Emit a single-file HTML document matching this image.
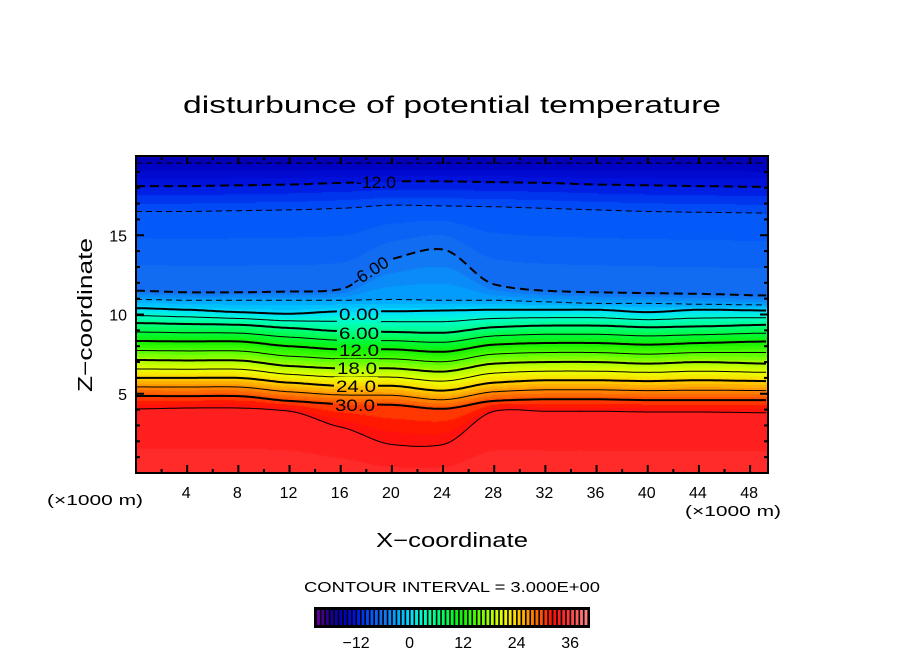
<!DOCTYPE html>
<html><head><meta charset="utf-8"><style>
html,body{margin:0;padding:0;background:#fff}
#wrap{position:relative;width:904px;height:654px;overflow:hidden}
canvas{position:absolute;left:0;top:0}
svg{position:absolute;left:0;top:0}
text{font-family:"Liberation Sans",sans-serif;fill:#000}
</style></head><body>
<div id="wrap">
<canvas id="cv" width="904" height="654"></canvas>
<svg id="sv" width="904" height="654"></svg>
</div>
<script>
// ---- data ----
const xs = [0,4,8,12,16,20,24,28,32,36,40,44,49.5];
const levels = [-18,-15,-12,-9,-6,-3,0,6,12,18,24,30,33,35];
const hM18 = [21,21,21,21,21,21,21,21,21,21,21,21,21];
const hM15 = [19.55,19.55,19.55,19.55,19.55,19.55,19.55,19.55,19.55,19.55,19.55,19.55,19.55];
const hM12 = [18.1,18.1,18.15,18.2,18.3,18.4,18.4,18.35,18.3,18.2,18.15,18.1,18.05];
const hM9 = [16.5,16.5,16.55,16.6,16.7,16.9,16.85,16.8,16.7,16.6,16.5,16.45,16.4];
const hM6 = [11.5,11.4,11.4,11.45,11.6,13.5,14.1,11.9,11.5,11.4,11.35,11.3,11.2];
const hM3 = [10.95,10.9,10.9,10.9,10.9,10.95,10.9,10.9,10.8,10.7,10.7,10.65,10.6];
const h0 = [10.4,10.3,10.15,10.05,10.2,10.2,10.25,10.3,10.3,10.3,10.15,10.3,10.25];
const h6 = [9.46,9.4,9.35,9.15,8.95,8.9,8.85,9.2,9.3,9.3,9.2,9.25,9.35];
const h12 = [8.33,8.3,8.3,8.0,7.8,7.8,7.65,8.1,8.2,8.2,8.1,8.2,8.3];
const h18 = [7.13,7.1,7.1,6.75,6.6,6.6,6.4,6.9,7.0,7.0,6.9,7.0,6.9];
const h24 = [6.0,6.0,6.0,5.7,5.5,5.5,5.2,5.7,5.85,5.85,5.8,5.85,5.8];
const h30 = [4.86,4.85,4.85,4.55,4.35,4.3,4.05,4.55,4.65,4.65,4.6,4.6,4.6];
const h33 = [4.04,4.1,4.1,3.9,2.9,1.8,1.8,3.9,3.9,3.9,3.85,3.85,3.8];
const h35 = [-1,-1,-1,-1,-1,-1,-1,-1,-1,-1,-1,-1,-1];
const heights = [hM18,hM15,hM12,hM9,hM6,hM3,h0,h6,h12,h18,h24,h30,h33,h35];
const cbTicks = [-12,0,12,24,36];
const cbMin = -21, cbMax = 40;

// ---- axes ----
const PL=136, PR=768, PT=156, PB=473, XMAX=49.4, ZMAX=20;
const sx = x => PL + x*(PR-PL)/XMAX;
const sz = z => PB - z*(PB-PT)/ZMAX;

const stops=[[-21,[112,0,160]],[-18,[30,0,140]],[-15,[0,0,190]],[-12,[0,20,225]],[-9,[0,85,250]],[-6,[20,112,240]],[-3,[0,165,255]],[0,[0,220,255]],[3,[0,255,200]],[6,[0,255,130]],[9,[0,250,60]],[12,[20,240,0]],[15,[80,255,0]],[18,[170,255,0]],[21,[235,255,0]],[24,[255,210,0]],[27,[255,140,0]],[30,[255,70,0]],[32,[255,10,0]],[33,[255,25,25]],[35,[255,48,48]],[38,[255,100,100]],[41,[255,150,150]]];
function cmap(v){
  if(v<=stops[0][0]) return stops[0][1];
  for(let i=1;i<stops.length;i++){ if(v<=stops[i][0]){const a=stops[i-1],b=stops[i],t=(v-a[0])/(b[0]-a[0]);return a[1].map((c,k)=>Math.round(c+(b[1][k]-c)*t));}}
  return stops[stops.length-1][1];
}
function hAt(arr,x){
  const n=xs.length;
  for(let i=1;i<n;i++){ if(x<=xs[i]){
    const t=(x-xs[i-1])/(xs[i]-xs[i-1]);
    const p0=arr[Math.max(i-2,0)],p1=arr[i-1],p2=arr[i],p3=arr[Math.min(i+1,n-1)];
    const m1=(p2-p0)/2*0.6,m2=(p3-p1)/2*0.6;
    const t2=t*t,t3=t2*t;
    return (2*t3-3*t2+1)*p1+(t3-2*t2+t)*m1+(-2*t3+3*t2)*p2+(t3-t2)*m2;
  }}
  return arr[n-1];
}
function valAt(hs,z){
  for(let i=1;i<levels.length;i++){
    if(z>=hs[i]){const t=(z-hs[i])/(hs[i-1]-hs[i]);return levels[i]+(levels[i-1]-levels[i])*t;}
  }
  return levels[levels.length-1];
}
// ---- fill ----
const ctx=document.getElementById('cv').getContext('2d');
const img=ctx.createImageData(PR-PL,PB-PT);
for(let px=0;px<PR-PL;px++){
  const x=px*XMAX/(PR-PL);
  const hs=heights.map(a=>hAt(a,x));
  for(let py=0;py<PB-PT;py++){
    const z=(PB-PT-py)*ZMAX/(PB-PT);
    const v=valAt(hs,z);
    const c=cmap(Math.floor(v)+0.5);
    const k=(py*(PR-PL)+px)*4;
    img.data[k]=c[0];img.data[k+1]=c[1];img.data[k+2]=c[2];img.data[k+3]=255;
  }
}
ctx.putImageData(img,PL,PT);

// ---- svg ----
const NS='http://www.w3.org/2000/svg';
const sv=document.getElementById('sv');
function mk(tag,attrs,parent){const e=document.createElementNS(NS,tag);for(const k in attrs)e.setAttribute(k,attrs[k]);(parent||sv).appendChild(e);return e;}
function txt(s,x,y,size,anchor,len,parent){const t=mk('text',{x:x,y:y,'font-size':size,'text-anchor':anchor||'middle'},parent);if(len){t.setAttribute('textLength',len);t.setAttribute('lengthAdjust','spacingAndGlyphs');}t.textContent=s;return t;}

const defs=mk('defs',{});
const mask=mk('mask',{id:'lm'},defs);
mk('rect',{x:0,y:0,width:904,height:654,fill:'#fff'},mask);
const labels=[['-12.0',376,188,0],['-6.00',370,277,-32],['0.00',359,320,0],['6.00',359,339,0],['12.0',359,356,0],['18.0',357,374,0],['24.0',356,392,0],['30.0',355,411,0]];
labels.forEach(l=>{mk('rect',{x:l[1]-22,y:l[2]-15,width:44,height:17,fill:'#000',transform:'rotate('+l[3]+' '+l[1]+' '+(l[2]-6)+')'},mask);});
const clip=mk('clipPath',{id:'pc'},defs);
mk('rect',{x:PL,y:PT,width:PR-PL,height:PB-PT},clip);

const lineG=mk('g',{mask:'url(#lm)','clip-path':'url(#pc)'});


function drawLevel(lv){
  let pts=[];
  for(let px=PL;px<=PR;px+=3){
    const x=(px-PL)*XMAX/(PR-PL);
    const hs=heights.map(a=>hAt(a,x));
    let z=null;
    for(let i=1;i<levels.length;i++){ if(lv<=levels[i] && lv>=levels[i-1]){const t=(lv-levels[i-1])/(levels[i]-levels[i-1]);z=hs[i-1]+(hs[i]-hs[i-1])*t;break;}}
    if(z!==null) pts.push(px.toFixed(1)+','+sz(z).toFixed(1));
  }
  const major=(lv%6===0);
  const p=mk('polyline',{points:pts.join(' '),fill:'none',stroke:'#000','stroke-width':major?2:1,'stroke-dasharray':lv<0?(major?'9,5':'6,4'):'none'},lineG);
  
  
}
for(let lv=-15;lv<=33;lv+=3) drawLevel(lv);

labels.forEach(l=>{const t=txt(l[0],l[1],l[2],17,'middle',40);t.setAttribute('transform','rotate('+l[3]+' '+l[1]+' '+(l[2]-6)+')');});

const fr=mk('rect',{x:PL,y:PT,width:PR-PL,height:PB-PT,fill:'none',stroke:'#000','stroke-width':2});

const tg=mk('g',{stroke:'#000','stroke-width':2});
for(let x=2;x<=48;x+=2){const m=x%4===0,L=m?8:4,X=sx(x);mk('line',{x1:X,y1:PB,x2:X,y2:PB-L},tg);mk('line',{x1:X,y1:PT,x2:X,y2:PT+L},tg);}
for(let z=1;z<=19;z++){const m=z%5===0,L=m?8:4,Y=sz(z);mk('line',{x1:PL,y1:Y,x2:PL+L,y2:Y},tg);mk('line',{x1:PR,y1:Y,x2:PR-L,y2:Y},tg);}
for(let x=4;x<=48;x+=4){const t=txt(String(x),sx(x)-1,498,16,'middle');}
[5,10,15].forEach(z=>{const t=txt(String(z),127,sz(z)+6,16,'end');});

let t;
t=txt('disturbunce of potential temperature',452,113,24,'middle',538);
t=txt('X\u2212coordinate',452,547,20,'middle',152);
t=txt('Z\u2212coordinate',0,0,20,'middle',154);t.setAttribute('transform','translate(92 315) rotate(-90)');
t=txt('(\u00d71000 m)',95,505,15,'middle',96);
t=txt('(\u00d71000 m)',733,516,15,'middle',96);
t=txt('CONTOUR INTERVAL = 3.000E+00',452,592,15,'middle',296);

const CB0=316, CB1=588, CBT=609, CBB=626;
const cbx=v=>CB0+(v-cbMin)*(CB1-CB0)/(cbMax-cbMin);
const cbg=mk('g',{});
mk('rect',{x:CB0-1,y:CBT-1,width:CB1-CB0+2,height:CBB-CBT+2,fill:'#000'},cbg);
for(let v=cbMin;v<cbMax;v++){const c=cmap(v+0.5);const r=mk('rect',{x:cbx(v)+1,y:CBT+1,width:cbx(v+1)-cbx(v)-1.6,height:CBB-CBT-2,fill:'rgb('+c.join(',')+')'},cbg);}
mk('rect',{x:CB0-1,y:CBT-1,width:CB1-CB0+2,height:CBB-CBT+2,fill:'none',stroke:'#000','stroke-width':2},cbg);
cbTicks.forEach(v=>{const s=v<0?'\u2212'+Math.abs(v):String(v);const tt=txt(s,cbx(v),648,16,'middle');});
</script>
</body></html>
